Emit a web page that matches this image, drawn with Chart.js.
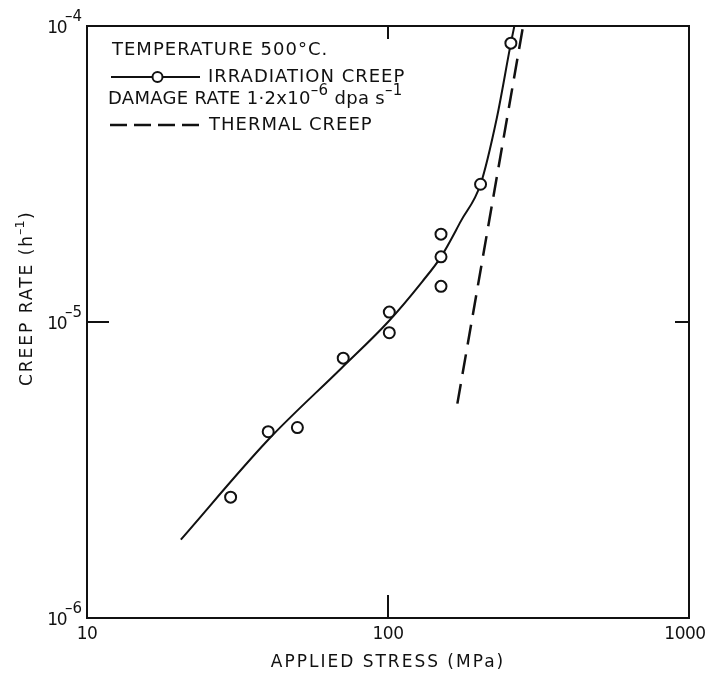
<!DOCTYPE html>
<html>
<head>
<meta charset="utf-8">
<script src="https://cdn.jsdelivr.net/npm/chart.js@4.4.1/dist/chart.umd.min.js"></script>
<style>
  body { margin: 0; background: #fff; }
  canvas { display: block; }
</style>
</head>
<body>
<canvas id="myChart" width="705" height="679"></canvas>
<script>
// measured points: irradiation creep (stress MPa, creep rate h^-1)
var irrStress = [30, 40, 50, 71, 101, 101, 150, 150, 150, 203, 256];
var irrRate = [2.56e-6, 4.26e-6, 4.4e-6, 7.55e-6, 1.08e-5, 9.2e-6, 1.98e-5, 1.66e-5, 1.32e-5, 2.92e-5, 8.75e-5];

// drawn fit through irradiation data
var fitStress = [20.5, 40, 70, 100, 130, 150, 175, 203, 230, 256, 273];
var fitRate = [1.84e-6, 4.0e-6, 6.98e-6, 1.0e-5, 1.37e-5, 1.66e-5, 2.2e-5, 2.92e-5, 4.9e-5, 8.75e-5, 1.2e-4];

// thermal creep line
var thermStress = [170, 290];
var thermRate = [5.3e-6, 1.2e-4];

var xTicks = [10, 100, 1000];
var yTicks = [1e-6, 1e-5, 1e-4];
var xInnerTicks = [100];
var yInnerTicks = [1e-5];

var ink = '#111';
var font = 'DejaVu Sans';

function pts(xs, ys) {
    return xs.map(function (v, i) { return { x: v, y: ys[i] }; });
}

var overlay = {
    id: 'overlay',
    afterDraw: function (chart) {
        var ctx = chart.ctx, a = chart.chartArea;
        var x = chart.scales.x, y = chart.scales.y;
        ctx.save();
        ctx.strokeStyle = ink;
        ctx.lineWidth = 2;
        ctx.strokeRect(a.left, a.top, a.right - a.left, a.bottom - a.top);
        ctx.beginPath();
        xInnerTicks.forEach(function (v) {
            var px = x.getPixelForValue(v);
            ctx.moveTo(px, a.bottom); ctx.lineTo(px, a.bottom - 23);
            ctx.moveTo(px, a.top); ctx.lineTo(px, a.top + 13);
        });
        yInnerTicks.forEach(function (v) {
            var py = y.getPixelForValue(v);
            ctx.moveTo(a.left, py); ctx.lineTo(a.left + 22, py);
            ctx.moveTo(a.right, py); ctx.lineTo(a.right - 14, py);
        });
        ctx.stroke();

        ctx.fillStyle = ink;
        ctx.textBaseline = 'middle';

        // x tick labels
        ctx.letterSpacing = '-0.5px';
        ctx.textAlign = 'center';
        ctx.font = '17px "' + font + '"';
        xTicks.forEach(function (v) {
            var px = x.getPixelForValue(v);
            var dx = v === 1000 ? -4 : 0;
            ctx.fillText(String(v), px + dx, a.bottom + 17);
        });

        // y tick labels: 10 with raised exponent
        yTicks.forEach(function (v) {
            var py = y.getPixelForValue(v);
            var e = '\u2013' + String(Math.abs(Math.round(Math.log10(v))));
            ctx.letterSpacing = '0px';
            ctx.textAlign = 'right';
            ctx.font = '15px "' + font + '"';
            ctx.fillText(e, a.left - 5, py - 9);
            var ew = ctx.measureText(e).width;
            ctx.font = '17px "' + font + '"';
            ctx.letterSpacing = '-1.5px';
            ctx.fillText('10', a.left - 4 - ew, py + 3);
        });

        // axis titles
        ctx.letterSpacing = '2px';
        ctx.textAlign = 'center';
        ctx.font = '17px "' + font + '"';
        ctx.fillText('APPLIED STRESS (MPa)', (a.left + a.right) / 2, 663);
        ctx.save();
        ctx.translate(28, 302);
        ctx.rotate(-Math.PI / 2);
        ctx.fillText('CREEP RATE (h', -8, 0);
        var tw = ctx.measureText('CREEP RATE (h').width;
        ctx.letterSpacing = '0px';
        ctx.textAlign = 'left';
        ctx.font = '13px "' + font + '"';
        ctx.fillText('\u20131', -8 + tw / 2 - 1, -7);
        ctx.font = '17px "' + font + '"';
        ctx.fillText(')', -8 + tw / 2 + 15, 0);
        ctx.restore();

        // legend block
        ctx.letterSpacing = '1px';
        ctx.textAlign = 'left';
        ctx.font = '18px "' + font + '"';
        ctx.fillText('TEMPERATURE 500\u00B0C.', 112, 50);
        ctx.fillText('IRRADIATION CREEP', 208, 77);
        ctx.fillText('THERMAL CREEP', 209, 125);
        ctx.letterSpacing = '0.3px';
        var s1 = 'DAMAGE RATE 1\u00B72x10';
        ctx.fillText(s1, 108, 99);
        var w1 = ctx.measureText(s1).width;
        ctx.font = '15px "' + font + '"';
        ctx.fillText('\u20136', 108 + w1, 91);
        var w2 = ctx.measureText('\u20136').width;
        ctx.font = '18px "' + font + '"';
        ctx.fillText(' dpa s', 108 + w1 + w2, 99);
        var w3 = ctx.measureText(' dpa s').width;
        ctx.font = '15px "' + font + '"';
        ctx.fillText('\u20131', 108 + w1 + w2 + w3, 91);

        ctx.lineWidth = 2;
        ctx.beginPath();
        ctx.moveTo(111, 77); ctx.lineTo(152, 77);
        ctx.moveTo(163, 77); ctx.lineTo(200, 77);
        ctx.stroke();
        ctx.beginPath();
        ctx.arc(157.5, 77, 5, 0, Math.PI * 2);
        ctx.stroke();

        ctx.lineWidth = 2.5;
        ctx.setLineDash([17, 7]);
        ctx.beginPath();
        ctx.moveTo(110, 125); ctx.lineTo(200, 125);
        ctx.stroke();
        ctx.restore();
    }
};

var ctx = document.getElementById('myChart').getContext('2d');
var myChart = new Chart(ctx, {
    type: 'scatter',
    data: {
        datasets: [{
            label: 'Irradiation creep',
            data: pts(irrStress, irrRate),
            showLine: false,
            pointRadius: 5.5,
            pointBorderWidth: 2,
            pointBorderColor: ink,
            pointBackgroundColor: '#fff'
        }, {
            label: 'Irradiation creep fit',
            data: pts(fitStress, fitRate),
            showLine: true,
            borderColor: ink,
            borderWidth: 2,
            pointRadius: 0,
            cubicInterpolationMode: 'monotone'
        }, {
            label: 'Thermal creep',
            data: pts(thermStress, thermRate),
            showLine: true,
            borderColor: ink,
            borderWidth: 2.5,
            borderDash: [20, 10],
            pointRadius: 0
        }]
    },
    options: {
        responsive: false,
        animation: false,
        layout: { padding: { top: 26, right: 16 } },
        plugins: {
            legend: { display: false },
            tooltip: { enabled: false }
        },
        scales: {
            x: {
                type: 'logarithmic',
                min: 10,
                max: 1000,
                afterBuildTicks: function (s) { s.ticks = xTicks.map(function (v) { return { value: v }; }); },
                afterFit: function (s) { s.height = 61; },
                grid: { display: false },
                border: { display: false },
                ticks: { display: false }
            },
            y: {
                type: 'logarithmic',
                min: 1e-6,
                max: 1e-4,
                afterBuildTicks: function (s) { s.ticks = yTicks.map(function (v) { return { value: v }; }); },
                afterFit: function (s) { s.width = 87; },
                grid: { display: false },
                border: { display: false },
                ticks: { display: false }
            }
        }
    },
    plugins: [overlay]
});
</script>
</body>
</html>
